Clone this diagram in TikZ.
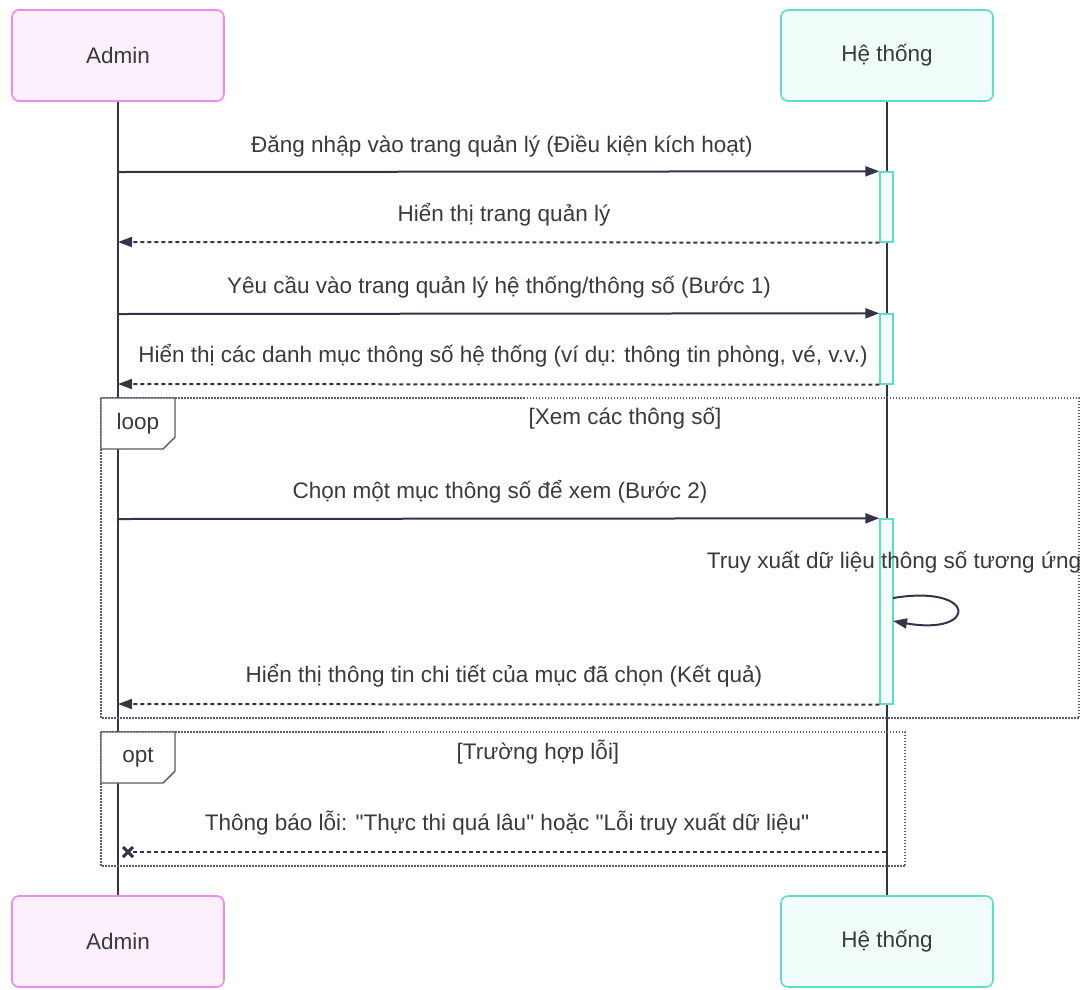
\documentclass[tikz,border=0pt]{standalone}
\usepackage{fontspec}
\setmainfont{Liberation Sans}
\usetikzlibrary{arrows.meta,calc}

\definecolor{adminedge}{HTML}{EC8AEE}
\definecolor{adminfill}{HTML}{FDF0FD}
\definecolor{sysedge}{HTML}{5EDDC8}
\definecolor{sysfill}{HTML}{F0FDFA}
\definecolor{inkline}{HTML}{33334A}
\definecolor{inktext}{HTML}{3A3A3A}
\definecolor{framegray}{HTML}{5A5A68}

\begin{document}
\begin{tikzpicture}[x=1pt,y=-1pt,
  every node/.style={text=inktext,font=\fontsize{22.5}{26}\selectfont},
  actoradmin/.style={draw=adminedge,fill=adminfill,line width=1.6pt,rounded corners=7pt,
    minimum width=212pt,minimum height=91pt},
  actorsys/.style={draw=sysedge,fill=sysfill,line width=1.6pt,rounded corners=7pt,
    minimum width=212pt,minimum height=91pt},
  lifeline/.style={draw=inkline,line width=2.4pt},
  activ/.style={draw=sysedge,fill=sysfill,line width=1.4pt,minimum width=13pt,inner sep=0pt},
  msg/.style={draw=inkline,line width=2pt,-{Triangle[length=14pt,width=10pt]}},
  reply/.style={msg,dash pattern=on 4pt off 3pt},
  frame/.style={draw=framegray,line width=1.6pt,dash pattern=on 1.5pt off 1.5pt},
  tagbox/.style={draw=framegray,fill=white,line width=1.4pt}]

\useasboundingbox (0,0) rectangle (1084,989);

% Actors
\node[actoradmin] (adminTop) at (118,55.5) {Admin};
\node[actorsys] (sysTop) at (887,55.5) {Hệ thống};
\node[actoradmin] (adminBot) at (118,941.5) {Admin};
\node[actorsys] (sysBot) at (887,941.5) {Hệ thống};

% Lifelines
\draw[lifeline] (adminTop.south) -- (adminBot.north);
\draw[lifeline] (sysTop.south) -- (sysBot.north);

% Frames
\draw[frame] (101,398) rectangle (1079,718);
\draw[tagbox] (101,398) -- (175,398) -- (175,437) -- (163,449) -- (101,449) -- cycle;
\node (loopTag) at (138,424) {loop};
\node (loopCond) at (625,418) {[Xem các thông số]};

\draw[frame] (101,732) rectangle (905,866);
\draw[tagbox] (101,732) -- (175,732) -- (175,771) -- (163,783) -- (101,783) -- cycle;
\node (optTag) at (138,758) {opt};
\node (optCond) at (538,752) {[Trường hợp lỗi]};

% Activations
\node[activ,minimum height=70pt] (act1) at (886.5,207) {};
\node[activ,minimum height=70pt] (act2) at (886.5,349) {};
\node[activ,minimum height=185pt] (act3) at (886.5,611.5) {};

\coordinate (a1) at (118,172);
\coordinate (a2) at (118,242);
\coordinate (a3) at (118,314);
\coordinate (a4) at (118,384);
\coordinate (a5) at (118,519);
\coordinate (a6) at (118,704);
\coordinate (s7) at (886,852);
\coordinate (x7) at (128,852);

% Messages
\draw[msg] (a1) -- (act1.north west);
\node (m1) at (502,146) {Đăng nhập vào trang quản lý (Điều kiện kích hoạt)};
\draw[reply] (act1.south west) -- (a2);
\node (m2) at (504,215) {Hiển thị trang quản lý};
\draw[msg] (a3) -- (act2.north west);
\node (m3) at (499,287) {Yêu cầu vào trang quản lý hệ thống/thông số (Bước 1)};
\draw[reply] (act2.south west) -- (a4);
\node (m4) at (503,356) {Hiển thị các danh mục thông số hệ thống (ví dụ: thông tin phòng, vé, v.v.)};
\draw[msg] (a5) -- (act3.north west);
\node (m5) at (500,492) {Chọn một mục thông số để xem (Bước 2)};

% Self call
\coordinate (s1) at (893,598);
\coordinate (s2) at (893,621);
\draw[msg] (s1) .. controls (978,584) and (978,636) .. (s2);
\node (m5b) at (894,562) {Truy xuất dữ liệu thông số tương ứng};

\draw[reply] (act3.south west) -- (a6);
\node (m6) at (504,676) {Hiển thị thông tin chi tiết của mục đã chọn (Kết quả)};

% Error reply
\draw[draw=inkline,line width=2pt,dash pattern=on 4pt off 3pt] (s7) -- (x7);
\draw[draw=inkline,line width=3pt] ($(x7)+(-5,-5)$) -- ($(x7)+(5,5)$);
\draw[draw=inkline,line width=3pt] ($(x7)+(-5,5)$) -- ($(x7)+(5,-5)$);
\node (m7) at (507,823) {Thông báo lỗi: \textquotedbl Thực thi quá lâu\textquotedbl{} hoặc \textquotedbl Lỗi truy xuất dữ liệu\textquotedbl};

\end{tikzpicture}
\end{document}
